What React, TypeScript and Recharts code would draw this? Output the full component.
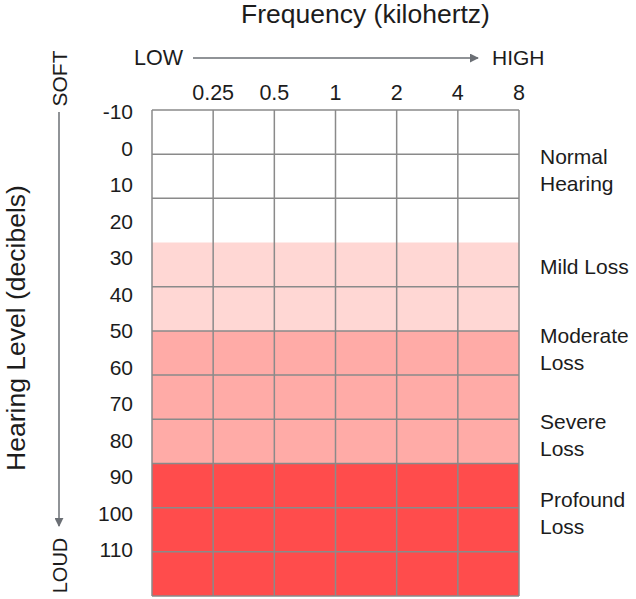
import React from 'react';
import { ComposedChart, XAxis, YAxis, CartesianGrid, ReferenceArea } from 'recharts';

// audiogram frame: frequencies on a log scale, hearing level in dB
const frequencies = [0.25, 0.5, 1, 2, 4, 8];
const freqDomain = [0.125, 8];
const levelTicks = [-10, 0, 10, 20, 30, 40, 50, 60, 70, 80, 90, 100, 110];
const levelDomain = [-10.5, 122.6];

// the grid has 11 rows, drawn independently of the dB labels
const gridRows = [0, 1, 2, 4, 5, 6, 7, 8, 9, 10, 11];
const bandStartRow = [3, 5, 8];
const bandEndRow = [5, 8, 11];
const bandColors = ['#FFD7D4', '#FFABA7', '#FF4C4C'];

const severityNames = ['Normal\nHearing', 'Mild Loss', 'Moderate\nLoss', 'Severe\nLoss', 'Profound\nLoss'];
const severityLevels = [6, 32.5, 55, 78.5, 100];

const FONT = '"Liberation Sans", Arial, sans-serif';
const TEXT = '#1c1c1c';
const ARROW = '#6b6f75';

function SeverityTick(props: any) {
    const { x, y, payload } = props;
    const idx = severityLevels.indexOf(payload.value);
    const lines = (severityNames[idx] || '').split('\n');
    const lh = 27;
    const first = y - ((lines.length - 1) * lh) / 2;
    return (
        <text x={x} y={first} textAnchor="start" fontSize={21} fill={TEXT} fontFamily={FONT}>
            {lines.map((l, i) => (
                <tspan key={i} x={x} dy={i === 0 ? '0.355em' : lh}>
                    {l}
                </tspan>
            ))}
        </text>
    );
}

export default function App() {
    const data = frequencies.map((f) => ({ freq: f }));

    return (
        <div style={{ position: 'absolute', left: 0, top: 0, width: 636, height: 599, background: '#fff', fontFamily: FONT }}>
            <ComposedChart width={636} height={599} data={data} margin={{ top: 80, right: 0, bottom: 3, left: 0 }}>
                <XAxis
                    xAxisId="f"
                    type="number"
                    dataKey="freq"
                    scale="log"
                    domain={freqDomain}
                    ticks={[freqDomain[0], ...frequencies]}
                    tickFormatter={(v: number) => (v < 0.2 ? '' : String(v))}
                    orientation="top"
                    height={30}
                    axisLine={false}
                    tickLine={false}
                    tickSize={0}
                    tickMargin={10}
                    interval={0}
                    allowDataOverflow
                    tick={{ fontSize: 21.5, fill: TEXT, fontFamily: FONT }}
                />
                <YAxis
                    yAxisId="db"
                    type="number"
                    domain={levelDomain}
                    reversed
                    ticks={levelTicks}
                    interval={0}
                    width={152}
                    axisLine={false}
                    tickLine={false}
                    tickSize={0}
                    tickMargin={19}
                    allowDataOverflow
                    tick={{ fontSize: 21, fill: TEXT, fontFamily: FONT }}
                />
                <YAxis yAxisId="row" type="number" domain={[0, 11]} reversed ticks={gridRows} interval={0} hide allowDataOverflow />
                <YAxis
                    yAxisId="sev"
                    orientation="right"
                    type="number"
                    domain={levelDomain}
                    reversed
                    ticks={severityLevels}
                    interval={0}
                    width={117}
                    axisLine={false}
                    tickLine={false}
                    tickSize={0}
                    tickMargin={21}
                    allowDataOverflow
                    tick={<SeverityTick />}
                />
                {bandStartRow.map((r, i) => (
                    <ReferenceArea
                        key={i}
                        xAxisId="f"
                        yAxisId="row"
                        y1={r}
                        y2={bandEndRow[i]}
                        fill={bandColors[i]}
                        fillOpacity={1}
                        stroke="none"
                        zIndex={-150}
                    />
                ))}
                <CartesianGrid xAxisId="f" yAxisId="row" stroke="#8a8a8a" strokeWidth={1.5} zIndex={-100} />
            </ComposedChart>

            <svg width={636} height={599} style={{ position: 'absolute', left: 0, top: 0, pointerEvents: 'none' }}>
                <defs>
                    <marker id="ah" viewBox="0 0 10 10" refX="9" refY="5" markerWidth="6" markerHeight="6" orient="auto">
                        <path d="M0,0 L10,5 L0,10 z" fill={ARROW} />
                    </marker>
                </defs>
                <text x={241} y={23} fontSize={26.5} fill={TEXT} fontFamily={FONT}>
                    Frequency (kilohertz)
                </text>
                <text x={134} y={65} fontSize={21.5} fill={TEXT} fontFamily={FONT}>
                    LOW
                </text>
                <text x={492} y={65} fontSize={21} fill={TEXT} fontFamily={FONT}>
                    HIGH
                </text>
                <line x1={193} y1={58} x2={478} y2={58} stroke={ARROW} strokeWidth={1.5} markerEnd="url(#ah)" />
                <text transform="translate(67,78.5) rotate(-90)" textAnchor="middle" fontSize={21} fill={TEXT} fontFamily={FONT}>
                    SOFT
                </text>
                <line x1={59} y1={112} x2={59} y2={526} stroke={ARROW} strokeWidth={1.5} markerEnd="url(#ah)" />
                <text transform="translate(67,565.5) rotate(-90)" textAnchor="middle" fontSize={20} fill={TEXT} fontFamily={FONT}>
                    LOUD
                </text>
                <text transform="translate(25,328) rotate(-90)" textAnchor="middle" fontSize={26.5} fill={TEXT} fontFamily={FONT}>
                    Hearing Level (decibels)
                </text>
            </svg>
        </div>
    );
}
